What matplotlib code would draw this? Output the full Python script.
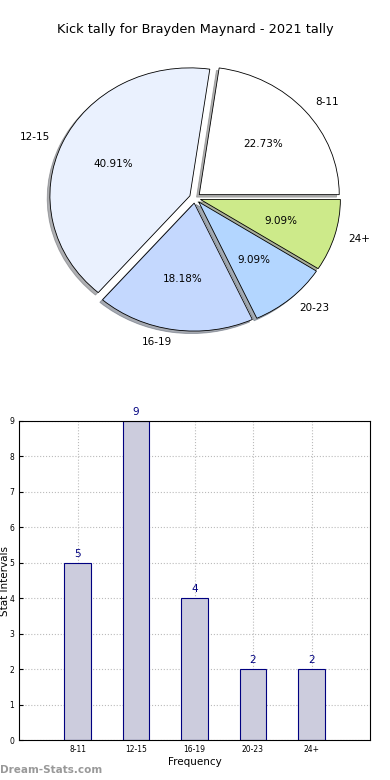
import matplotlib
matplotlib.use("Agg")
import matplotlib.pyplot as plt

categories = ["8-11", "12-15", "16-19", "20-23", "24+"]
counts = [5, 9, 4, 2, 2]
pie_colors = ["#ffffff", "#eaf1fe", "#c4d8fe", "#b3d6ff", "#cdea8a"]
title = "Kick tally for Brayden Maynard - 2021 tally"

fig = plt.figure(figsize=(3.9, 7.8), dpi=100)

# Pie (elliptical, as in the reference)
axp = fig.add_axes([0, 387/780, 1, 390/780])
axp.pie(counts, labels=categories, colors=pie_colors, autopct="%.2f%%",
        explode=[0.04]*5, shadow={"ox": -0.014, "oy": -0.014, "shade": 0.6},
        startangle=0,
        wedgeprops=dict(edgecolor="black", linewidth=0.6),
        textprops=dict(fontsize=7.5))
axp.set_aspect("auto")
axp.set_xlim(-390/280, 390/280)
axp.set_ylim(-390/256, 390/256)
axp.axis("off")
fig.text(0.5, 1 - 30/780, title, ha="center", va="center", fontsize=9.3)

# Bar
axb = fig.add_axes([19/390, 40/780, 351/390, 319/780])
x = list(range(1, len(categories) + 1))
axb.bar(x, counts, width=0.45, color="#ccccdd", edgecolor="#000080", linewidth=0.8, zorder=2)
for xi, c in zip(x, counts):
    axb.text(xi, c + 0.12, str(c), ha="center", va="bottom", color="#000080", fontsize=7.5)
axb.set_xlim(0, 6)
axb.set_ylim(0, 9)
axb.set_xticks(x)
axb.set_xticklabels(categories, fontsize=5.5)
axb.set_yticks(range(0, 10))
axb.tick_params(axis="y", labelsize=5.5)
axb.tick_params(direction="in", length=3)
axb.grid(True, linestyle=":", color="#bbbbbb", linewidth=0.8, zorder=0)
axb.set_axisbelow(True)
axb.set_xlabel("Frequency", fontsize=7.5, labelpad=2)
axb.set_ylabel("Stat Intervals", fontsize=7.5)
axb.yaxis.set_label_coords((10 - 19) / 351, 0.5)

fig.text(0.0, 1 - 770/780, "Dream-Stats.com", ha="left", va="center", fontsize=7.5,
         color="#999999", fontweight="bold")

fig.savefig("out.png", dpi=100)
